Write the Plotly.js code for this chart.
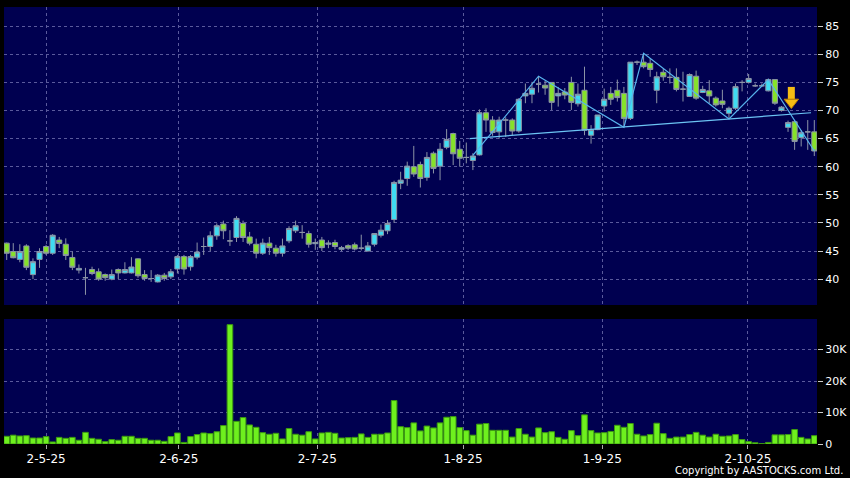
<!DOCTYPE html>
<html><head><meta charset="utf-8">
<script src="https://cdn.plot.ly/plotly-3.0.1.min.js"></script>
<style>html,body{margin:0;padding:0;background:#000;}#chart{width:850px;height:478px;}</style>
</head><body><div id="chart"></div>
<script>
// ---- data (daily candles, index 0 = first bar) ----
const openP = [46.4,44.9,43.5,45.9,40.8,43.5,45.8,44.6,46.95,46.2,43.85,41.6,40.25,41.7,41.3,40.8,40.0,41.7,41.1,41.1,
43.6,40.8,40.1,39.5,40.7,40.4,41.8,44.0,42.2,43.9,45.8,45.8,47.7,49.8,46.8,47.4,49.9,47.5,46.2,44.6,
46.4,45.5,44.6,46.8,48.6,48.3,48.1,46.3,46.95,46.2,46.5,45.3,45.95,46.1,45.5,45.0,46.2,47.8,48.6,50.6,
57.05,57.9,60.0,60.4,58.1,62.4,60.1,63.45,65.9,63.1,61.65,61.1,62.1,69.6,68.3,66.2,68.3,68.3,66.35,72.6,
72.9,74.7,74.5,75.0,72.6,73.3,75.0,71.2,73.6,65.6,66.6,70.8,73.05,73.6,73.05,68.6,78.6,78.6,78.4,73.6,
76.8,75.9,75.9,73.8,72.5,76.1,73.2,73.5,72.2,71.7,69.5,70.4,75.0,75.0,74.4,74.4,73.5,75.5,70.0,67.0,
68.0,65.2,66.2,66.2];
const highP = [46.5,46.4,46.2,46.2,43.7,45.5,46.1,48.0,47.5,47.25,44.9,42.6,42.0,42.2,41.9,41.0,41.7,41.9,43.0,43.9,
43.7,41.6,41.6,40.9,41.1,41.8,44.3,44.3,44.3,46.5,47.4,48.5,49.9,50.4,48.7,51.2,50.4,48.4,47.2,47.2,
47.5,46.1,47.2,49.4,50.4,49.6,48.6,47.2,47.5,46.9,47.0,45.9,46.2,46.5,47.9,46.6,48.2,49.7,50.5,57.5,
59.1,60.9,63.7,60.9,62.6,62.7,64.2,66.7,66.05,64.6,64.3,62.4,70.2,70.4,69.0,68.9,68.8,68.6,72.2,74.8,
75.1,76.1,75.3,75.0,74.2,74.0,76.0,74.8,77.8,67.4,69.2,73.9,74.2,75.5,74.2,78.6,78.9,80.2,79.3,76.9,
77.5,77.5,77.5,76.9,76.6,77.1,74.4,75.4,72.5,73.7,70.7,74.8,75.4,76.5,74.8,74.8,75.7,75.5,70.8,68.2,
68.3,66.5,68.3,68.3];
const lowP = [43.4,43.7,43.0,41.6,40.0,42.0,44.3,44.3,45.5,43.4,41.6,41.0,37.2,40.7,39.7,39.7,39.8,40.0,41.0,41.0,
40.25,39.7,39.5,39.4,39.7,40.0,41.0,40.8,41.5,43.5,44.3,45.0,47.0,47.1,45.9,46.6,46.6,46.0,43.7,44.3,
44.3,44.0,44.0,46.4,48.2,47.2,45.6,45.2,45.0,45.5,45.3,45.0,45.2,45.1,45.1,44.9,45.8,47.4,48.0,50.0,
56.0,56.6,58.2,56.3,57.5,58.8,57.6,63.1,60.3,60.0,60.6,59.4,62.0,66.2,65.5,65.0,65.3,65.6,66.05,71.3,
71.3,73.2,72.8,70.1,70.7,72.0,70.1,70.7,65.6,64.1,66.5,69.8,71.0,71.6,67.0,68.3,78.1,77.5,76.0,71.3,
75.3,74.8,73.4,71.6,72.5,71.9,73.1,71.3,70.7,70.4,68.6,70.1,73.4,74.8,74.2,74.2,73.4,71.0,69.8,66.2,
63.0,63.6,63.0,61.9];
const closeP = [44.6,43.8,44.9,42.1,43.1,44.9,44.6,47.8,46.35,44.2,42.1,41.9,40.25,41.0,40.0,40.25,40.8,41.1,41.7,42.15,
40.6,40.1,40.1,40.7,40.1,41.3,44.0,41.8,44.0,44.8,45.8,47.7,49.5,48.6,46.8,50.8,47.4,46.4,44.6,46.4,
45.6,44.6,45.9,49.0,49.5,48.3,46.2,46.5,45.6,46.4,45.8,45.6,45.5,45.35,45.5,45.9,48.1,48.7,49.9,57.2,
57.6,60.1,58.7,57.9,61.65,59.7,63.1,64.85,62.3,61.5,61.65,61.9,69.6,68.3,66.1,68.3,68.3,66.35,72.0,73.05,
73.95,74.7,74.0,71.45,73.05,72.75,71.45,72.9,66.5,66.6,69.2,72.0,72.0,72.3,68.6,78.6,78.6,77.8,77.3,76.0,
76.0,75.9,73.75,73.8,76.4,72.2,73.75,72.6,71.0,71.1,70.4,74.25,75.0,75.7,74.4,74.4,75.5,71.3,70.6,67.85,
64.5,66.05,66.2,62.8];
// volume in thousands of shares
const volumeK = [2.45,2.8,2.55,2.65,1.9,1.9,2.35,0.65,2.1,1.8,2.1,1.2,3.7,1.8,1.5,0.75,1.4,1.2,2.45,2.45,
1.8,1.8,1.2,1.2,0.85,2.35,3.5,0.5,2.35,3.0,3.5,3.3,3.9,5.85,37.9,7.2,8.4,6.05,5.3,3.6,
3.1,3.4,1.6,4.9,3.1,2.8,3.9,1.6,3.5,3.7,3.4,1.9,2.0,2.1,3.2,2.1,3.1,3.1,3.5,13.8,
5.5,5.2,6.7,4.15,5.7,5.1,6.7,8.5,8.7,5.2,4.25,2.8,6.3,6.5,4.35,4.35,4.35,2.2,4.9,3.1,
2.2,5.1,3.6,3.9,2.1,1.5,4.25,2.65,9.25,4.25,3.5,3.6,4.0,5.95,5.3,6.5,3.1,2.55,3.0,6.6,
3.3,1.8,2.2,2.2,3.0,3.7,2.8,2.2,3.1,2.45,2.55,3.0,1.4,0.75,0.4,0.1,0.5,2.9,2.9,3.0,
4.6,2.1,1.6,2.65];
const monthTickIdx = [6.0,26.2,47.3,69.5,90.7,112.9];
const monthTickLabels = ['2-5-25','2-6-25','2-7-25','1-8-25','1-9-25','2-10-25'];
const priceTicks = [40,45,50,55,60,65,70,75,80,85];
const volTicks = [0,10000,20000,30000];
const volTickLabels = ['0','10K','20K','30K'];
const zigzagIdx = [71,81,94,97,110,116,123];
const zigzagPrice = [62.0,76.1,67.0,80.2,68.5,75.5,62.8];
const necklineIdx = [70.5,122.5];
const necklinePrice = [65.0,69.6];
const signalIdx = [119.5];
const signalShaft = [74.2,72.0];
const signalHead = [71.46];

// ---- build ----
const idx = openP.map((_, i) => i);
const volume = volumeK.map(v => v * 1000);
const UP = '#3fdcf2', DOWN = '#86e22a', WICK = '#8c94a6', GRID = '#5a5a9c';
const FONT = 'DejaVu Sans, Verdana, sans-serif';

const traces = [
  {type:'candlestick', x:idx, open:openP, high:highP, low:lowP, close:closeP, xaxis:'x', yaxis:'y',
   increasing:{line:{color:WICK,width:1}, fillcolor:UP},
   decreasing:{line:{color:WICK,width:1}, fillcolor:DOWN},
   whiskerwidth:0, hoverinfo:'skip'},
  {type:'scatter', mode:'lines', x:necklineIdx, y:necklinePrice, xaxis:'x', yaxis:'y',
   line:{color:'#6cc4f4', width:1.2}, hoverinfo:'skip'},
  {type:'scatter', mode:'lines', x:zigzagIdx, y:zigzagPrice, xaxis:'x', yaxis:'y',
   line:{color:'#58b4ee', width:1.2}, hoverinfo:'skip'},
  {type:'scatter', mode:'lines', x:[signalIdx[0], signalIdx[0]], y:signalShaft, xaxis:'x', yaxis:'y',
   line:{color:'#f5bd14', width:7}, hoverinfo:'skip'},
  {type:'scatter', mode:'markers', x:signalIdx, y:signalHead, xaxis:'x', yaxis:'y',
   marker:{symbol:'triangle-down', size:12.5, color:'#f5bd14', line:{color:'#c08400', width:1}}, hoverinfo:'skip'},
  {type:'bar', x:idx, y:volume, xaxis:'x2', yaxis:'y2',
   marker:{color:'#6ef01e', line:{color:'#3c9a10', width:1}}, hoverinfo:'skip'}
];

const xDom = [4/850, 817/850];
const layout = {
  width:850, height:478, margin:{l:0,r:0,t:0,b:0},
  paper_bgcolor:'#000', plot_bgcolor:'#000050', showlegend:false,
  boxgap:0.22, boxgroupgap:0, bargap:0.14,
  font:{family:FONT, color:'#ffffff'},
  xaxis:{domain:xDom, range:[-0.41,123.41], anchor:'y', rangeslider:{visible:false},
    tickmode:'array', tickvals:monthTickIdx, showticklabels:false, ticks:'',
    showgrid:true, gridcolor:GRID, griddash:'3px,3px', gridwidth:1, zeroline:false, showline:false},
  yaxis:{domain:[1-305/478, 1-7/478], range:[35.39,88.42], anchor:'x', side:'right',
    tickmode:'array', tickvals:priceTicks, ticks:'outside', ticklen:5, tickcolor:'#cccccc',
    tickfont:{family:FONT, size:11, color:'#ffffff'},
    showgrid:true, gridcolor:GRID, griddash:'3px,3px', gridwidth:1, zeroline:false, showline:false},
  xaxis2:{domain:xDom, range:[-0.41,123.41], anchor:'y2', matches:'x',
    tickmode:'array', tickvals:monthTickIdx, ticktext:monthTickLabels,
    ticks:'outside', ticklen:4, tickcolor:'#aaaaaa',
    tickfont:{family:FONT, size:12, color:'#ffffff'},
    showgrid:true, gridcolor:GRID, griddash:'3px,3px', gridwidth:1, zeroline:false, showline:false},
  yaxis2:{domain:[1-444/478, 1-319/478], range:[0,39700], anchor:'x2', side:'right',
    tickmode:'array', tickvals:volTicks, ticktext:volTickLabels, ticks:'outside', ticklen:5, tickcolor:'#cccccc',
    tickfont:{family:FONT, size:11, color:'#ffffff'},
    showgrid:true, gridcolor:GRID, griddash:'3px,3px', gridwidth:1, zeroline:false, showline:false},
  annotations:[{text:'Copyright by AASTOCKS.com Ltd.', xref:'paper', yref:'paper',
    x:845/850, y:1-470/478, xanchor:'right', yanchor:'middle', showarrow:false,
    font:{family:FONT, size:10, color:'#ffffff'}}]
};
Plotly.newPlot('chart', traces, layout, {staticPlot:true, displayModeBar:false});
</script></body></html>
